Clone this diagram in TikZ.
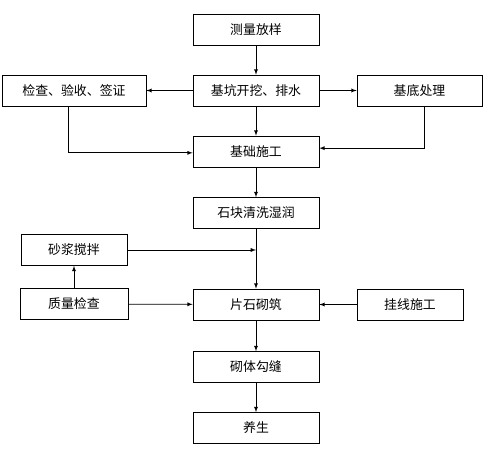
\documentclass[tikz,border=0pt]{standalone}
\usepackage{fontspec}
\newfontfamily\cjk{Noto Sans CJK SC}
\usetikzlibrary{arrows}

\tikzset{box/.style={draw, line width=0.6pt, minimum height=0.93cm, minimum width=3.78cm, inner sep=0pt, font=\cjk\fontsize{11}{13}\selectfont}}

\begin{document}
\begin{tikzpicture}[x=0.03cm, y=-0.03cm, line width=0.6pt]

\useasboundingbox (0,0) rectangle (497,454);

\node [box] (v1) at (256,29.5) {测量放样};
\node [box] (v2) at (256,90.5) {基坑开挖、排水};
\node [box, minimum width=4.32cm] (v3) at (74,90.5) {检查、验收、签证};
\node [box, minimum width=3.75cm] (v4) at (419.5,90.5) {基底处理};
\node [box] (v5) at (256,151.5) {基础施工};
\node [box] (v6) at (256,213) {石块清洗湿润};
\node [box, minimum width=3.18cm] (v7) at (74,250) {砂浆搅拌};
\node [box, minimum width=3.24cm] (v8) at (74,304) {质量检查};
\node [box] (v9) at (256,304.5) {片石砌筑};
\node [box, minimum width=3.18cm] (v10) at (410,304.5) {挂线施工};
\node [box] (v11) at (256,367) {砌体勾缝};
\node [box] (v12) at (256,428) {养生};

\draw [-latex] (v1) edge (v2);
\draw [-latex] (v2) edge (v3);
\draw [-latex] (v2) edge (v4);
\draw [-latex] (v2) edge (v5);
\draw [-latex] ([xshift=-0.18cm]v3.south) |- ([yshift=-0.04cm]v5.west);
\draw [-latex] ([xshift=0.14cm]v4.south) |- ([yshift=0.1cm]v5.east);
\draw [-latex] (v5) edge (v6);
\draw [-latex] (v6) edge (v9);
\draw [-latex] (v7.east) -- (v7.east -| v6.south);
\draw [-latex] (v8) edge (v7);
\draw [-latex] (v8) edge (v9);
\draw [-latex] (v10) edge (v9);
\draw [-latex] (v9) edge (v11);
\draw [-latex] (v11) edge (v12);

\end{tikzpicture}
\end{document}
